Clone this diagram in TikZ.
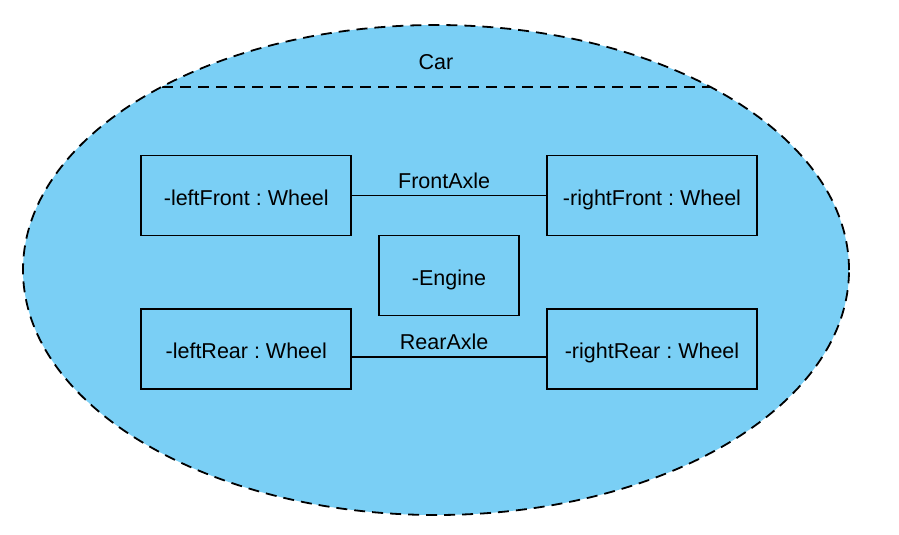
\documentclass[tikz,border=0pt]{standalone}
\usepackage{fontspec}
\setmainfont{Liberation Sans}
\usetikzlibrary{shapes.geometric}
\definecolor{carblue}{RGB}{122,207,245}
\begin{document}
\frenchspacing
\begin{tikzpicture}[x=1pt,y=-1pt,
  font=\frenchspacing\fontsize{21.5}{25}\selectfont,
  partbox/.style={draw=black, line width=1.8pt, fill=carblue, minimum width=210pt, minimum height=80pt, inner sep=0pt, text height=19pt, text depth=0pt},
  conn/.style={draw=black, line width=1.8pt},
  outline/.style={draw=black, line width=1.8pt, dash pattern=on 11pt off 7pt, fill=carblue},
  axlelabel/.style={midway, xshift=-5pt, yshift=15pt, inner sep=0pt}]
\useasboundingbox (0,0) rectangle (899,535);
\node[outline, ellipse, minimum width=826pt, minimum height=490pt, inner sep=0pt] (car) at (436,270) {};
\begin{scope}
  \clip (436,270) ellipse [x radius=413, y radius=245];
  \draw[outline, fill=none] (0,87) -- (899,87);
\end{scope}
\node (carlabel) at (436,62) {Car};
\node[partbox] (leftFront) at (246.3,195.5) {-leftFront : Wheel};
\node[partbox] (rightFront) at (652,195.5) {-rightFront : Wheel};
\node[partbox, minimum width=140pt] (engine) at (449,275.5) {-Engine};
\node[partbox] (leftRear) at (246.3,349.3) {-leftRear : Wheel};
\node[partbox] (rightRear) at (652,349.3) {-rightRear : Wheel};
\draw[conn] (leftFront.east) -- (rightFront.west) node[axlelabel] (frontaxle) {FrontAxle};
\draw[conn] ([yshift=-8pt]leftRear.east) -- ([yshift=-8pt]rightRear.west) node[axlelabel] (rearaxle) {RearAxle};
\end{tikzpicture}
\end{document}
